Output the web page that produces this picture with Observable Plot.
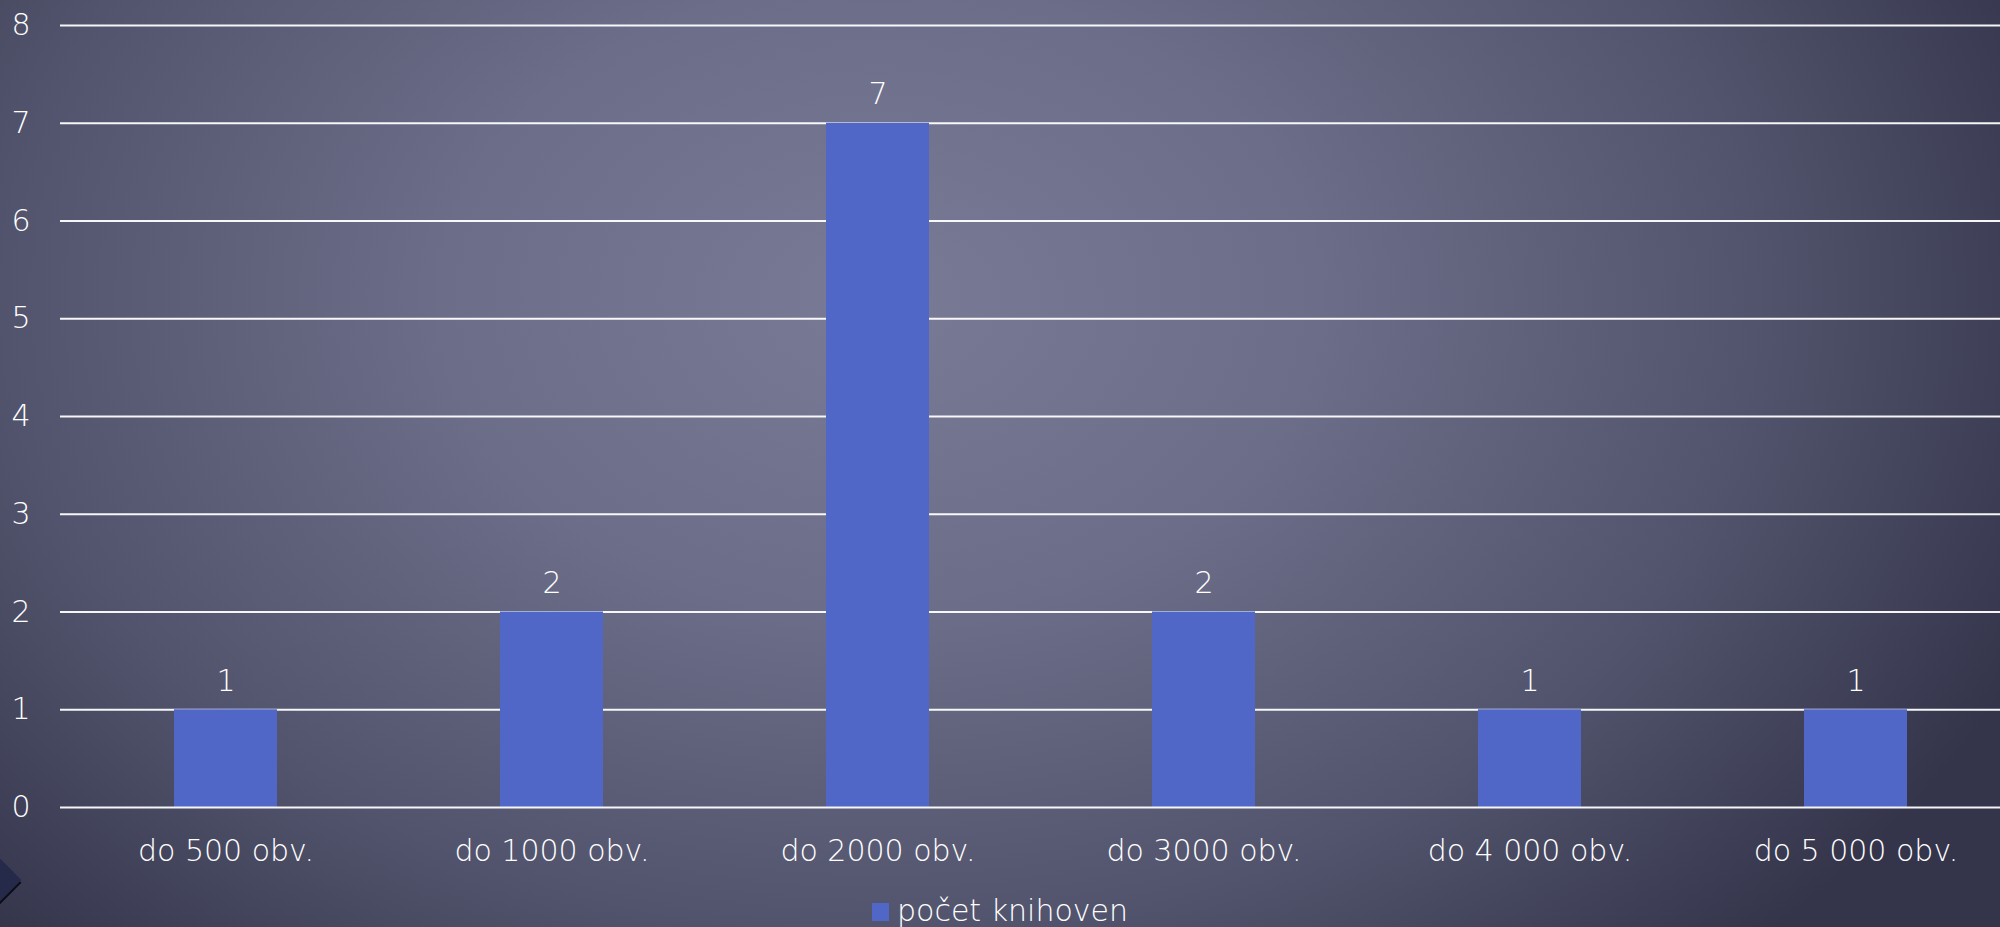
<!DOCTYPE html>
<html>
<head>
<meta charset="utf-8">
<script src="https://cdn.jsdelivr.net/npm/d3@7"></script>
<script src="https://cdn.jsdelivr.net/npm/@observablehq/plot@0.6"></script>
<style>
  html, body { margin: 0; padding: 0; width: 2000px; height: 927px; overflow: hidden; }
  body {
    background: radial-gradient(ellipse 1250px 900px at 880px 300px, #787a96 0%, #6c6e89 35%, #52546d 70%, #34354b 100%);
    font-family: "DejaVu Sans", sans-serif;
    position: relative;
  }
  #chart svg { display: block; max-width: none; }
  #legend {
    position: absolute; left: 0; top: 884px; width: 2000px; height: 52px;
    display: flex; justify-content: center; align-items: center;
    color: #ffffff; font-size: 30px; font-weight: 300;
  }
  #legend .sw { width: 17px; height: 18px; background: #5067c8; margin-right: 8px; margin-top: 4px; }
  #deco {
    position: absolute; left: -22px; top: 862px; width: 36px; height: 36px;
    background: #262a4a; transform: rotate(45deg); box-shadow: 2px 2px 0 #0b0c16;
  }
</style>
</head>
<body>
<div id="chart"></div>
<div id="legend"><div class="sw"></div><span>počet knihoven</span></div>
<div id="deco"></div>
<script>
const categories = ["do 500 obv.", "do 1000 obv.", "do 2000 obv.", "do 3000 obv.", "do 4 000 obv.", "do 5 000 obv."];
const values = [1, 2, 7, 2, 1, 1];
const yTicks = [0, 1, 2, 3, 4, 5, 6, 7, 8];
const seriesName = "počet knihoven";

const data = categories.map((c, i) => ({category: c, value: values[i]}));

const chart = Plot.plot({
  width: 2000,
  height: 875,
  marginLeft: 60,
  marginRight: -21,
  marginTop: 25,
  marginBottom: 68,
  style: {background: "transparent", color: "#ffffff", fontFamily: "'DejaVu Sans', sans-serif", fontSize: "30px", fontWeight: 300, overflow: "visible"},
  x: {domain: categories, paddingInner: 0.685, paddingOuter: 0.3425, label: null, tickSize: 0, tickPadding: 32},
  y: {domain: [0, 8], ticks: yTicks, label: null, tickSize: 0, tickPadding: 30},
  marks: [
    Plot.ruleY(yTicks.filter(d => d > 0), {stroke: "#ffffff", strokeWidth: 2, strokeOpacity: 0.95}),
    Plot.barY(data, {x: "category", y: "value", fill: "#5067c8"}),
    Plot.ruleY([0], {stroke: "#ffffff", strokeWidth: 2, strokeOpacity: 0.95}),
    Plot.text(data, {x: "category", y: "value", text: d => String(d.value), lineAnchor: "bottom", dy: -19, fill: "#ffffff", fontSize: 30})
  ]
});
document.getElementById("chart").appendChild(chart);
</script>
</body>
</html>
